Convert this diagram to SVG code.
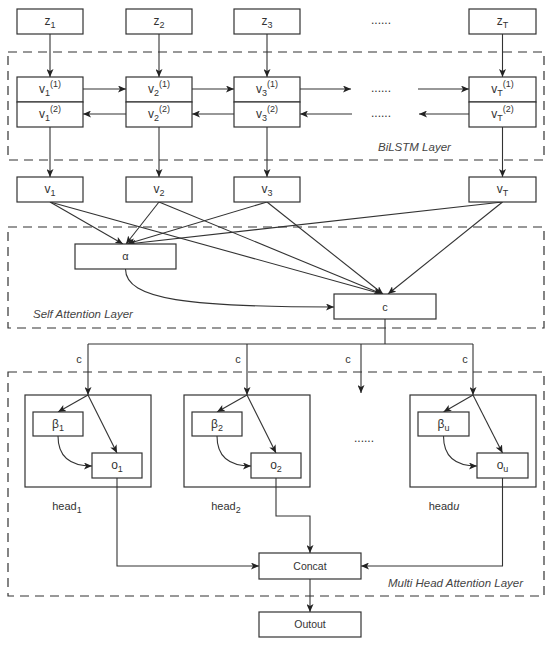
<svg xmlns="http://www.w3.org/2000/svg" width="550" height="649" viewBox="0 0 550 649">
<style>
.box{fill:#fff;stroke:#333;stroke-width:1.2}
.layer{fill:none;stroke:#333;stroke-width:1.2;stroke-dasharray:9 6}
.t{font-family:"Liberation Sans",Arial,sans-serif;font-size:12px;fill:#333;text-anchor:middle}
.s{font-size:9px}
.lbl{font-family:"Liberation Sans",Arial,sans-serif;font-size:11.5px;font-style:italic;fill:#444}
.e{fill:none;stroke:#333;stroke-width:1.1}
.a{marker-end:url(#arr)}
.dots{font-family:"Liberation Sans",Arial,sans-serif;font-size:12px;fill:#333;text-anchor:middle}
</style>
<defs>
<marker id="arr" viewBox="0 0 8 7" refX="8" refY="3.5" markerWidth="8" markerHeight="7" orient="auto" markerUnits="userSpaceOnUse">
<path d="M0,0 L8,3.5 L0,7 L2,3.5 z" fill="#222"/>
</marker>
</defs>
<rect width="550" height="649" fill="#fff"/>

<g id="layers">
<rect class="layer" x="8" y="52" width="536" height="108"/>
<text class="lbl" x="378" y="151">BiLSTM Layer</text>
<rect class="layer" x="8" y="227" width="536" height="101"/>
<text class="lbl" x="33" y="318">Self Attention Layer</text>
<rect class="layer" x="8" y="372" width="536" height="224"/>
<text class="lbl" x="388" y="587">Multi Head Attention Layer</text>
</g>

<g id="connectors">
<line class="e a" x1="50" y1="34" x2="50" y2="77"/>
<line class="e a" x1="159" y1="34" x2="159" y2="77"/>
<line class="e a" x1="267" y1="34" x2="267" y2="77"/>
<line class="e a" x1="502.5" y1="34" x2="502.5" y2="77"/>
<line class="e a" x1="83" y1="89" x2="126" y2="89"/>
<line class="e a" x1="192" y1="89" x2="234" y2="89"/>
<line class="e a" x1="300" y1="89" x2="351" y2="89"/>
<line class="e a" x1="418" y1="89" x2="469" y2="89"/>
<line class="e a" x1="126" y1="114" x2="83" y2="114"/>
<line class="e a" x1="234" y1="114" x2="192" y2="114"/>
<line class="e a" x1="352" y1="114" x2="300" y2="114"/>
<line class="e a" x1="469" y1="114" x2="419" y2="114"/>
<line class="e a" x1="50" y1="127" x2="50" y2="177"/>
<line class="e a" x1="159" y1="127" x2="159" y2="177"/>
<line class="e a" x1="267" y1="127" x2="267" y2="177"/>
<line class="e a" x1="502.5" y1="127" x2="502.5" y2="177"/>
<line class="e a" x1="50" y1="202" x2="123" y2="244"/>
<line class="e a" x1="159" y1="202" x2="126" y2="244"/>
<line class="e a" x1="267" y1="202" x2="127" y2="244"/>
<line class="e a" x1="502.5" y1="202" x2="128" y2="244"/>
<line class="e a" x1="50" y1="202" x2="382" y2="294"/>
<line class="e a" x1="159" y1="202" x2="382" y2="294"/>
<line class="e a" x1="267" y1="202" x2="383" y2="294"/>
<line class="e a" x1="502.5" y1="202" x2="388" y2="294"/>
<path class="e a" d="M125.5,269 C125.5,300 190,307 334,307"/>
<polyline class="e" points="385,319 385,344"/>
<line class="e" x1="88" y1="344" x2="473" y2="344"/>
<line class="e a" x1="88" y1="344" x2="88" y2="395"/>
<line class="e a" x1="247" y1="344" x2="247" y2="395"/>
<line class="e a" x1="361" y1="344" x2="361" y2="393"/>
<line class="e a" x1="473" y1="344" x2="473" y2="395"/>
<text class="t" x="79" y="363" style="font-size:11px">c</text>
<text class="t" x="238" y="363" style="font-size:11px">c</text>
<text class="t" x="348" y="363" style="font-size:11px">c</text>
<text class="t" x="465" y="363" style="font-size:11px">c</text>
<line class="e a" x1="88" y1="395" x2="58" y2="412"/>
<line class="e a" x1="88" y1="395" x2="117" y2="453"/>
<path class="e a" d="M58,436 C58,456 70,466 92,466"/>
<line class="e a" x1="247" y1="395" x2="217" y2="412"/>
<line class="e a" x1="247" y1="395" x2="276" y2="453"/>
<path class="e a" d="M217,436 C217,456 229,466 251,466"/>
<line class="e a" x1="473" y1="395" x2="443.5" y2="412"/>
<line class="e a" x1="473" y1="395" x2="502.5" y2="453"/>
<path class="e a" d="M443.5,436 C443.5,456 455,466 477,466"/>
<polyline class="e a" points="117,478 117,566 259,566"/>
<polyline class="e a" points="276,478 276,516 310,516 310,553"/>
<polyline class="e a" points="502.5,478 502.5,566 361,566"/>
<line class="e a" x1="310" y1="579" x2="310" y2="612"/>
</g>

<g id="z1"><rect class="box" x="17" y="9" width="66" height="25"/><text class="t" x="50" y="25">z<tspan class="s" dy="3">1</tspan></text></g>
<g id="z2"><rect class="box" x="126" y="9" width="66" height="25"/><text class="t" x="159" y="25">z<tspan class="s" dy="3">2</tspan></text></g>
<g id="z3"><rect class="box" x="234" y="9" width="66" height="25"/><text class="t" x="267" y="25">z<tspan class="s" dy="3">3</tspan></text></g>
<g id="zdots"><text class="dots" x="381" y="24">......</text></g>
<g id="zT"><rect class="box" x="469" y="9" width="67" height="25"/><text class="t" x="502.5" y="25">z<tspan class="s" dy="3">T</tspan></text></g>

<g id="v1h"><rect class="box" x="17" y="77" width="66" height="25"/><rect class="box" x="17" y="102" width="66" height="25"/>
<text class="t" x="50" y="93">v<tspan class="s" dy="3">1</tspan><tspan class="s" dy="-9">(1)</tspan></text>
<text class="t" x="50" y="118">v<tspan class="s" dy="3">1</tspan><tspan class="s" dy="-9">(2)</tspan></text></g>
<g id="v2h"><rect class="box" x="126" y="77" width="66" height="25"/><rect class="box" x="126" y="102" width="66" height="25"/>
<text class="t" x="159" y="93">v<tspan class="s" dy="3">2</tspan><tspan class="s" dy="-9">(1)</tspan></text>
<text class="t" x="159" y="118">v<tspan class="s" dy="3">2</tspan><tspan class="s" dy="-9">(2)</tspan></text></g>
<g id="v3h"><rect class="box" x="234" y="77" width="66" height="25"/><rect class="box" x="234" y="102" width="66" height="25"/>
<text class="t" x="267" y="93">v<tspan class="s" dy="3">3</tspan><tspan class="s" dy="-9">(1)</tspan></text>
<text class="t" x="267" y="118">v<tspan class="s" dy="3">3</tspan><tspan class="s" dy="-9">(2)</tspan></text></g>
<g id="vdots"><text class="dots" x="381" y="92">......</text><text class="dots" x="381" y="117">......</text></g>
<g id="vTh"><rect class="box" x="469" y="77" width="67" height="25"/><rect class="box" x="469" y="102" width="67" height="25"/>
<text class="t" x="502.5" y="93">v<tspan class="s" dy="3">T</tspan><tspan class="s" dy="-9">(1)</tspan></text>
<text class="t" x="502.5" y="118">v<tspan class="s" dy="3">T</tspan><tspan class="s" dy="-9">(2)</tspan></text></g>

<g id="v1"><rect class="box" x="17" y="177" width="66" height="25"/><text class="t" x="50" y="193">v<tspan class="s" dy="3">1</tspan></text></g>
<g id="v2"><rect class="box" x="126" y="177" width="66" height="25"/><text class="t" x="159" y="193">v<tspan class="s" dy="3">2</tspan></text></g>
<g id="v3"><rect class="box" x="234" y="177" width="66" height="25"/><text class="t" x="267" y="193">v<tspan class="s" dy="3">3</tspan></text></g>
<g id="vT"><rect class="box" x="469" y="177" width="67" height="25"/><text class="t" x="502.5" y="193">v<tspan class="s" dy="3">T</tspan></text></g>

<g id="alpha"><rect class="box" x="75" y="244" width="101" height="25"/><text class="t" x="125.5" y="260" style="font-size:11px">α</text></g>
<g id="c"><rect class="box" x="334" y="294" width="102" height="25"/><text class="t" x="385" y="311" style="font-size:11px">c</text></g>

<g id="head1"><rect class="box" x="25" y="395" width="126" height="92" style="fill:none"/>
<rect class="box" x="33" y="412" width="50" height="24"/><text class="t" x="58" y="428">β<tspan class="s" dy="3">1</tspan></text>
<rect class="box" x="92" y="453" width="50" height="25"/><text class="t" x="117" y="469">o<tspan class="s" dy="3">1</tspan></text>
<text class="t" x="67" y="510" style="font-size:11px">head<tspan class="s" dy="3">1</tspan></text></g>
<g id="head2"><rect class="box" x="184" y="395" width="126" height="92" style="fill:none"/>
<rect class="box" x="192" y="412" width="50" height="24"/><text class="t" x="217" y="428">β<tspan class="s" dy="3">2</tspan></text>
<rect class="box" x="251" y="453" width="50" height="25"/><text class="t" x="276" y="469">o<tspan class="s" dy="3">2</tspan></text>
<text class="t" x="226" y="510" style="font-size:11px">head<tspan class="s" dy="3">2</tspan></text></g>
<g id="hdots"><text class="dots" x="364" y="442">......</text></g>
<g id="headu"><rect class="box" x="410" y="395" width="126" height="92" style="fill:none"/>
<rect class="box" x="418" y="412" width="51" height="24"/><text class="t" x="443.5" y="428">β<tspan class="s" dy="3">u</tspan></text>
<rect class="box" x="477" y="453" width="51" height="25"/><text class="t" x="502.5" y="469">o<tspan class="s" dy="3">u</tspan></text>
<text class="t" x="444" y="510" style="font-size:11px">head<tspan style="font-style:italic">u</tspan></text></g>

<g id="concat"><rect class="box" x="259" y="553" width="102" height="26"/><text class="t" x="310" y="570" style="font-size:10.5px">Concat</text></g>
<g id="outout"><rect class="box" x="259" y="612" width="102" height="25"/><text class="t" x="310" y="628" style="font-size:10.5px">Outout</text></g>
</svg>
